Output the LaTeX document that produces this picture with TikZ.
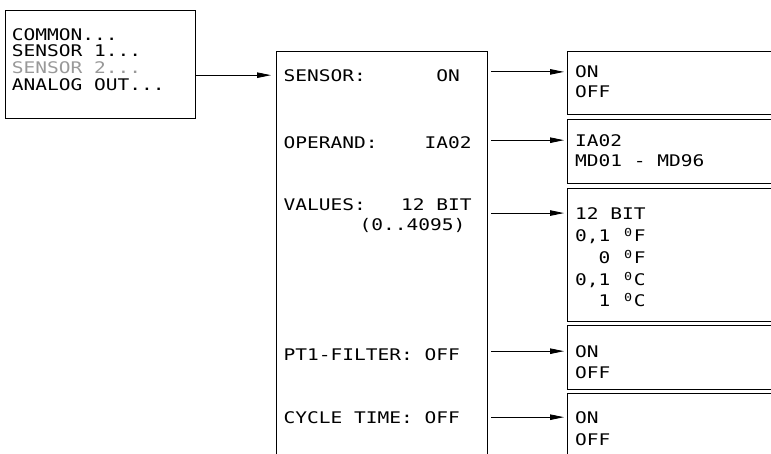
\documentclass[tikz,border=0pt]{standalone}
\usepackage{fontspec}
\usepackage{xcolor}
\usepackage{tikz}
\usetikzlibrary{positioning, arrows.meta}
\newfontfamily\lcdfont[FakeStretch=1.22]{DejaVu Sans Mono}
\definecolor{lcdgray}{gray}{0.6}
% small raised zero, one character cell wide
\newcommand{\lcddeg}{\makebox[11.75pt]{\raisebox{5pt}{\fontsize{11pt}{11pt}\selectfont 0}}}
\tikzset{
  panel/.style={draw, line width=1.2pt, inner sep=0pt, anchor=north west},
  lcd/.style={anchor=base west, inner sep=0pt, text=black,
              font=\lcdfont\fontsize{16pt}{16pt}\selectfont\frenchspacing},
  arr/.style={-{Triangle[length=14pt, width=5.5pt]}, line width=0.9pt},
}

\begin{document}
\begin{tikzpicture}[x=1pt, y=-1pt]
  \useasboundingbox (0,0) rectangle (771,453);

  %% === Menu on the left ===
  \node[panel, minimum width=190pt, minimum height=108pt] at (5,10) (menu) {};
  \node[lcd] at (11.7,40) (common) {COMMON...};
  \node[lcd] at (11.7,56.7) (sensor1) {SENSOR 1...};
  \node[lcd, text=lcdgray] at (11.7,73.3) (sensor2) {SENSOR 2...};
  \node[lcd] at (11.7,90) (analog) {ANALOG OUT...};

  %% === Sensor settings panel (runs off the bottom) ===
  \node[panel, minimum width=211pt, minimum height=430pt] at (276,51) (main) {};
  \node[lcd] at (283.3,81) (sensor) {SENSOR:~~~~~~ON};
  \node[lcd] at (283.3,148.3) (operand) {OPERAND:~~~~IA02};
  \node[lcd] at (283.3,210) (values) {VALUES:~~~12 BIT};
  \node[lcd] at (289,230.5) (range) {~~~~~~(0..4095)};
  \node[lcd] at (283.3,360) (filter) {PT1-FILTER: OFF};
  \node[lcd] at (283.3,423) (cycle) {CYCLE TIME: OFF};

  %% === Choices on the right (run off the right edge) ===
  % sensor on/off
  \node[panel, minimum width=230pt, minimum height=63pt] at (567,51) (onoff) {};
  \node[lcd] at (575,77.7) (on1) {ON};
  \node[lcd] at (575,97.7) (off1) {OFF};

  % operand
  \node[panel, minimum width=230pt, minimum height=64pt] at (567,119) (oplist) {};
  \node[lcd] at (575,146) (ia) {IA02};
  \node[lcd] at (575,166) (md) {MD01 - MD96};

  % values
  \node[panel, minimum width=230pt, minimum height=133pt] at (567,188) (vallist) {};
  \node[lcd] at (575,219) (bit) {12 BIT};
  \node[lcd] at (575,241) (fa) {0,1 \lcddeg F};
  \node[lcd] at (575,263) (fb) {~~0 \lcddeg F};
  \node[lcd] at (575,285) (ca) {0,1 \lcddeg C};
  \node[lcd] at (575,306.5) (cb) {~~1 \lcddeg C};

  % filter on/off
  \node[panel, minimum width=230pt, minimum height=64pt] at (567,325) (filtbox) {};
  \node[lcd] at (575,357) (on4) {ON};
  \node[lcd] at (575,378) (off4) {OFF};

  % cycle time on/off
  \node[panel, minimum width=230pt, minimum height=90pt] at (567,393) (cyclebox) {};
  \node[lcd] at (575,423) (on5) {ON};
  \node[lcd] at (575,445) (off5) {OFF};

  %% === Arrows ===
  \draw[arr] (menu.east |- sensor.west) -- ([xshift=-5pt]main.west |- sensor.west);

  \draw[arr] ([xshift=3pt]main.east |- on1.west) -- ([xshift=-3pt]onoff.west |- on1.west);
  \draw[arr] ([xshift=3pt]main.east |- ia.west) -- ([xshift=-3pt]oplist.west |- ia.west);
  \draw[arr] ([xshift=3pt]main.east |- bit.west) -- ([xshift=-3pt]vallist.west |- bit.west);
  \draw[arr] ([xshift=3pt]main.east |- on4.west) -- ([xshift=-3pt]filtbox.west |- on4.west);
  \draw[arr] ([xshift=3pt]main.east |- on5.west) -- ([xshift=-3pt]cyclebox.west |- on5.west);

\end{tikzpicture}
\end{document}
